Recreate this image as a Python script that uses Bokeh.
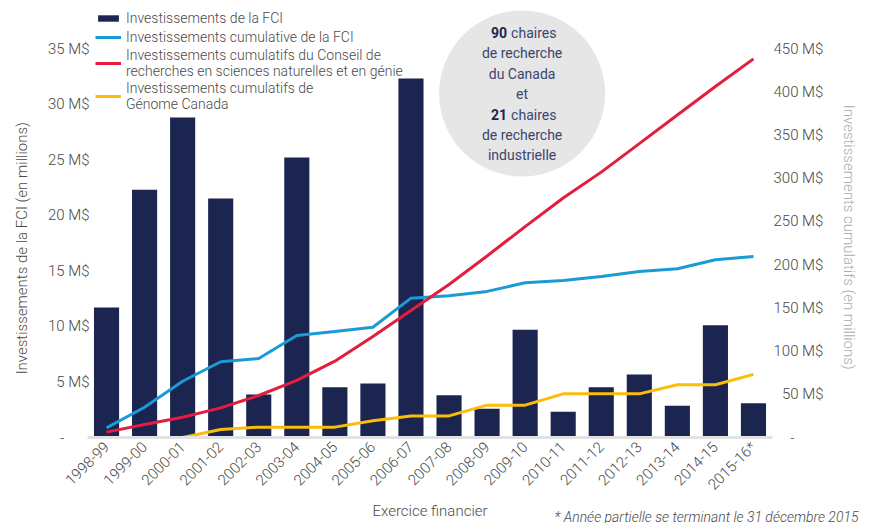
import math
from bokeh.plotting import figure
from bokeh.models import Range1d, LinearAxis, FixedTicker, Legend, LegendItem, Label, BoxAnnotation, Title
from bokeh.embed import file_html
from bokeh.resources import INLINE

# ---------------- data ----------------
years = ["1998-99", "1999-00", "2000-01", "2001-02", "2002-03", "2003-04",
         "2004-05", "2005-06", "2006-07", "2007-08", "2008-09", "2009-10",
         "2010-11", "2011-12", "2012-13", "2013-14", "2014-15", "2015-16*"]
# FCI investments per year (M$, left axis)
fci_invest = [11.7, 22.3, 28.8, 21.5, 3.87, 25.2, 4.53, 4.86, 32.3,
              3.81, 2.58, 9.69, 2.31, 4.53, 5.67, 2.85, 10.1, 3.09]
# cumulative series (M$, right axis)
fci_cumul = [11.2, 35.0, 65.1, 87.6, 91.4, 118.0, 122.7, 127.6, 161.2,
             164.0, 169.0, 179.0, 181.7, 186.3, 192.0, 195.2, 205.6, 209.4]
crsng_cumul = [6.2, 15.0, 23.5, 34.3, 48.6, 66.0, 88.3, 116.8, 147.0,
               177.0, 210.0, 244.0, 277.0, 307.0, 340.0, 373.0, 406.0, 438.0]
genome_cumul = [0, 0, 0, 9.3, 12.0, 12.0, 12.0, 19.3, 25.0,
                25.0, 37.4, 37.4, 50.5, 50.5, 50.5, 61.0, 61.0, 73.0]

left_ticks = [0, 5, 10, 15, 20, 25, 30, 35]
right_ticks = [0, 50, 100, 150, 200, 250, 300, 350, 400, 450]

legend_labels = ["Investissements de la FCI",
                 "Investissements cumulative de la FCI",
                 "Investissements cumulatifs du Conseil de\nrecherches en sciences naturelles et en génie",
                 "Investissements cumulatifs de\nGénome Canada"]

bubble_lines = ["chaires", "de recherche", "du Canada", "et", "chaires", "de recherche", "industrielle"]
bubble_bold = ["90", "21"]

# ---------------- styles ----------------
FONT = "Roboto Light"
FONT_B = "Roboto"
NAVY = "#1b2550"
BLUE = "#1c9ad6"
RED = "#e31e3c"
YELLOW = "#fbbd08"
TXT = "#4a4a4a"
FSP = "\u2007"   # figure space (digit width), used to align tick labels
NBSP = "\u00a0"  # used to offset axis titles along the axis

xs = list(range(len(years)))
left_max = 35
right_max = 450

W, H = 874, 523
MB_L, MB_R, MB_T, MB_B = 87, 102, 0, 86
frame_h = H - MB_T - MB_B
frame_w = W - MB_L - MB_R
px_y = 389 / left_max              # px per left-axis unit (35 M$ -> 389 px)
px_x = frame_w / len(years)        # px per category
y_end = frame_h / px_y
y2_end = y_end * right_max / left_max

p = figure(width=W, height=H, output_backend="svg", toolbar_location=None,
           x_range=Range1d(-0.5, len(years) - 0.5), y_range=Range1d(0, y_end),
           min_border_left=MB_L, min_border_right=MB_R, min_border_top=MB_T, min_border_bottom=MB_B)
p.outline_line_color = None
p.xgrid.grid_line_color = None
p.ygrid.grid_line_color = None
p.extra_y_ranges = {"cumul": Range1d(0, y2_end)}

# ---- info bubble ----
bx, by, br = 10.92, 30.95, 83   # centre (data units) and radius (px)
bubble = BoxAnnotation(left=bx - br / px_x, right=bx + br / px_x,
                       bottom=by - br / px_y, top=by + br / px_y,
                       fill_color="#e6e6e6", fill_alpha=1.0, line_color=None,
                       border_radius=br, level="underlay")
p.add_layout(bubble)
offs = [-61, -41, -20, 0, 21, 41, 61]
for i, t in enumerate(bubble_lines):
    bold_first = i in (0, 4)
    p.add_layout(Label(x=bx + (-11 if bold_first else 0) / px_x, y=by - offs[i] / px_y,
                       text=t, text_align="left" if bold_first else "center",
                       text_baseline="middle", text_font=FONT_B, text_font_size="14px",
                       text_color="#3a4570"))
for j, t in enumerate(bubble_bold):
    i = (0, 4)[j]
    p.add_layout(Label(x=bx - 15 / px_x, y=by - offs[i] / px_y, text=t, text_align="right",
                       text_baseline="middle", text_font=FONT_B, text_font_size="14px",
                       text_font_style="bold", text_color=NAVY))

bars = p.vbar(x=xs, top=fci_invest, width=0.66, fill_color=NAVY, line_color=None)
l_blue = p.line(x=xs, y=fci_cumul, y_range_name="cumul", line_color=BLUE, line_width=3)
l_red = p.line(x=xs, y=crsng_cumul, y_range_name="cumul", line_color=RED, line_width=3)
l_yel = p.line(x=xs, y=genome_cumul, y_range_name="cumul", line_color=YELLOW, line_width=3)

def style_axis(ax):
    ax.major_tick_line_color = None
    ax.minor_tick_line_color = None
    ax.major_tick_out = 0
    ax.major_tick_in = 0
    ax.minor_tick_out = 0
    ax.minor_tick_in = 0
    ax.major_label_text_font = FONT
    ax.major_label_text_font_size = "15px"
    ax.major_label_text_color = TXT
    ax.axis_label_text_font = FONT
    ax.axis_label_text_font_size = "15px"
    ax.axis_label_text_font_style = "normal"

# ---- x axis ----
xa = p.xaxis[0]
style_axis(xa)
xa.ticker = FixedTicker(ticks=xs)
xa.major_label_overrides = {i: y for i, y in enumerate(years)}
xa.major_label_orientation = math.pi / 4
xa.axis_line_color = "#e2e2e2"
xa.axis_line_width = 3
xa.major_label_standoff = 7
xa.axis_label = "Exercice financier"
xa.axis_label_text_color = TXT
xa.axis_label_standoff = -1

# ---- left axis ----
ya = p.yaxis[0]
style_axis(ya)
ya.ticker = FixedTicker(ticks=left_ticks)
ya.major_label_overrides = {t: ("-" + FSP * 3 if t == 0 else f"{t} M$") for t in left_ticks}
ya.axis_line_color = None
ya.major_label_standoff = -2
ya.axis_label = "Investissements de la FCI (en millions)" + NBSP * 16
ya.axis_label_text_color = TXT
ya.axis_label_standoff = 14

# ---- right axis ----
def right_label(t):
    if t == 0:
        return FSP * 2 + "-"
    return FSP * (3 - len(str(t))) + f"{t} M$"

ra = LinearAxis(y_range_name="cumul")
style_axis(ra)
ra.ticker = FixedTicker(ticks=right_ticks)
ra.major_label_overrides = {t: right_label(t) for t in right_ticks}
ra.axis_line_color = None
ra.major_label_standoff = 1
ra.axis_label = NBSP * 10 + "Investissements cumulatifs (en millions)"
ra.axis_label_text_color = "#ababab"
ra.axis_label_standoff = 13
if "axis_label_orientation" in ra.properties():
    ra.axis_label_orientation = "vertical"
p.add_layout(ra, "right")

# ---- legend ----
legend = Legend(items=[
    LegendItem(label=legend_labels[0], renderers=[bars]),
    LegendItem(label=legend_labels[1], renderers=[l_blue]),
    LegendItem(label=legend_labels[2], renderers=[l_red]),
    LegendItem(label=legend_labels[3], renderers=[l_yel]),
], location=(8, 325), margin=0, padding=2, spacing=1,
   glyph_width=26, glyph_height=8, label_height=18, label_standoff=5,
   label_text_font=FONT, label_text_font_size="14px", label_text_color=TXT,
   label_text_line_height=1.15,
   border_line_color=None, background_fill_alpha=0)
p.add_layout(legend, "center")

# ---- footnote (near zero-height title under the x axis, on the axis-title line) ----
foot = Title(text="* Année partielle se terminant le 31 décembre 2015\n",
             align="right", vertical_align="bottom", offset=-86,
             text_font=FONT, text_font_size="14px", text_font_style="italic",
             text_color=TXT)
try:
    foot.standoff = -34
except Exception:
    pass
p.add_layout(foot, "below")

open("out.html", "w").write(file_html(p, INLINE))
